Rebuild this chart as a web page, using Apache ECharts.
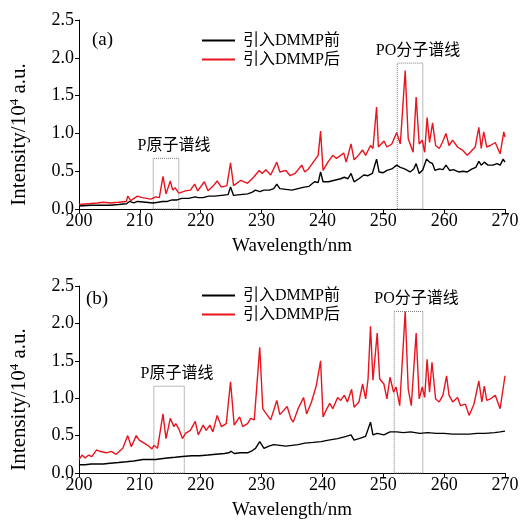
<!DOCTYPE html>
<html>
<head>
<meta charset="utf-8">
<script src="https://cdn.jsdelivr.net/npm/echarts@6/dist/echarts.min.js"></script>
<style>
html,body{margin:0;padding:0;background:#fff;}
#chart{width:523px;height:521px;}
</style>
</head>
<body>
<div id="chart"></div>
<script>
// ---------- data ----------
const xTicks = [200, 210, 220, 230, 240, 250, 260, 270];
const yTicks = [0.0, 0.5, 1.0, 1.5, 2.0, 2.5];
const seriesNames = ['引入DMMP前', '引入DMMP后'];
const panelLabels = ['(a)', '(b)'];

// Panel (a) — before DMMP (black)
const aBeforeWl = [200.0,202.0,204.0,205.1,206.5,207.8,208.3,209.0,209.6,211.0,212.1,213.0,213.7,214.5,215.3,216.1,216.9,218.0,219.1,219.6,220.4,221.3,222.3,223.4,224.5,224.9,225.4,226.5,227.7,228.4,229.0,229.7,230.4,231.3,232.0,232.5,233.0,234.0,235.0,236.0,237.0,237.8,238.7,239.3,239.7,240.1,241.0,242.0,243.0,243.6,244.2,244.7,245.2,246.0,246.8,247.5,248.2,248.9,249.3,250.0,250.6,251.4,252.2,252.8,253.5,254.4,255.0,255.4,255.9,256.5,257.1,257.6,258.1,258.5,259.2,259.8,260.3,260.9,261.5,262.4,263.1,263.8,264.6,265.2,265.7,266.1,266.6,267.2,268.0,268.7,269.2,269.7,270.0];
const aBeforeVal = [0.04,0.05,0.05,0.05,0.06,0.07,0.10,0.08,0.10,0.09,0.08,0.09,0.10,0.10,0.12,0.12,0.14,0.14,0.16,0.15,0.15,0.17,0.17,0.18,0.19,0.29,0.18,0.19,0.20,0.22,0.25,0.23,0.25,0.25,0.27,0.33,0.27,0.26,0.25,0.27,0.29,0.30,0.36,0.35,0.49,0.36,0.36,0.38,0.40,0.42,0.40,0.47,0.36,0.40,0.45,0.44,0.47,0.66,0.49,0.48,0.51,0.53,0.58,0.55,0.53,0.49,0.53,0.60,0.47,0.52,0.66,0.62,0.60,0.51,0.53,0.52,0.58,0.51,0.52,0.49,0.50,0.49,0.53,0.55,0.63,0.58,0.62,0.58,0.58,0.60,0.58,0.66,0.62];

// Panel (a) — after DMMP (red)
const aAfterWl = [200.0,201.5,203.0,204.0,205.1,206.5,207.8,208.0,208.5,209.6,210.4,211.8,212.6,213.2,213.8,214.3,215.0,215.4,215.8,216.4,217.5,218.3,219.0,219.5,220.6,221.2,222.0,222.7,223.4,224.3,224.9,225.4,226.6,227.7,228.8,229.6,230.1,230.7,231.5,232.5,233.0,234.0,234.7,235.5,236.6,237.1,237.7,238.5,239.3,239.7,240.1,240.9,241.7,242.3,243.0,243.5,243.9,244.7,245.2,245.7,246.6,247.1,247.9,248.3,248.9,249.2,250.1,250.6,251.4,252.2,252.8,253.6,254.1,254.9,255.4,255.9,256.4,256.8,257.2,257.6,258.1,258.6,259.2,259.7,260.3,260.8,261.4,262.2,263.0,263.8,264.3,265.1,265.7,266.1,266.5,267.0,267.6,268.4,269.2,269.8,270.0];
const aAfterVal = [0.06,0.07,0.08,0.09,0.08,0.09,0.10,0.17,0.11,0.17,0.15,0.13,0.16,0.15,0.43,0.20,0.37,0.25,0.28,0.21,0.24,0.25,0.33,0.24,0.36,0.24,0.30,0.37,0.29,0.31,0.61,0.31,0.38,0.34,0.43,0.51,0.47,0.52,0.45,0.62,0.49,0.51,0.44,0.47,0.58,0.49,0.53,0.62,0.71,1.03,0.51,0.62,0.71,0.67,0.71,0.74,0.62,0.86,0.65,0.69,0.78,0.71,0.84,0.80,1.35,0.82,0.90,0.82,0.86,1.01,0.86,1.83,0.93,0.75,1.48,0.86,0.91,0.75,1.21,0.88,1.14,0.84,0.80,0.88,1.00,0.84,0.91,0.82,0.78,0.71,0.75,0.82,1.08,0.80,1.02,0.82,0.84,0.88,0.73,1.02,0.95];

// Panel (b) — before DMMP (black)
const bBeforeWl = [200.0,201.0,202.0,203.0,204.0,205.1,206.5,207.8,209.0,210.5,211.5,212.6,213.5,214.5,215.8,217.0,218.5,219.8,221.2,222.5,223.9,224.6,225.0,225.5,226.5,227.7,228.5,229.0,229.7,230.4,231.2,232.0,233.0,234.0,235.0,236.0,237.1,238.5,239.8,241.0,242.5,243.9,244.7,245.2,246.0,247.1,247.9,248.3,249.0,250.1,251.1,252.2,253.3,254.5,256.0,257.3,258.7,260.0,261.4,262.7,264.1,265.4,266.7,268.3,269.2,270.0];
const bBeforeVal = [0.11,0.11,0.12,0.12,0.12,0.13,0.14,0.15,0.16,0.18,0.18,0.18,0.19,0.20,0.21,0.22,0.23,0.23,0.24,0.25,0.26,0.27,0.29,0.26,0.27,0.27,0.30,0.33,0.42,0.33,0.36,0.38,0.37,0.36,0.37,0.38,0.40,0.41,0.42,0.44,0.46,0.49,0.51,0.44,0.46,0.49,0.68,0.51,0.53,0.51,0.55,0.55,0.54,0.55,0.53,0.54,0.53,0.53,0.52,0.52,0.52,0.53,0.53,0.54,0.55,0.56];

// Panel (b) — after DMMP (red)
const bAfterWl = [200.0,200.5,201.0,201.6,202.1,202.9,203.4,204.5,205.3,206.1,207.2,208.0,208.6,209.4,209.9,210.5,211.3,212.0,212.3,212.9,213.8,214.3,215.0,215.6,215.9,216.4,217.0,217.5,218.3,219.1,219.6,220.4,220.9,221.5,222.0,222.7,223.4,224.2,224.9,225.5,226.4,226.9,227.7,228.2,228.8,229.7,230.2,230.6,231.5,232.5,233.0,234.2,234.8,235.2,236.0,236.9,237.4,238.2,239.0,239.7,240.1,240.6,241.2,241.7,242.5,243.0,243.6,244.1,244.8,245.2,246.0,246.6,247.1,247.5,247.9,248.3,249.0,249.4,250.1,250.6,251.1,251.7,252.1,252.7,253.6,254.1,254.6,255.4,255.9,256.4,256.8,257.2,257.6,258.0,258.6,259.2,259.8,260.4,260.8,261.4,262.2,262.7,263.5,264.1,264.9,265.7,266.2,266.6,267.0,267.6,268.4,269.2,270.0];
const bAfterVal = [0.18,0.24,0.20,0.24,0.22,0.31,0.29,0.27,0.29,0.25,0.33,0.50,0.35,0.50,0.44,0.41,0.37,0.32,0.37,0.33,0.79,0.46,0.73,0.62,0.66,0.59,0.46,0.53,0.57,0.69,0.51,0.64,0.57,0.64,0.55,0.77,0.62,0.66,1.22,0.64,0.75,0.62,0.66,0.73,0.71,1.68,0.86,0.81,0.71,0.97,0.78,0.89,0.73,0.68,0.86,1.01,0.79,0.95,1.17,1.50,0.75,0.84,0.93,0.86,1.01,0.97,1.04,0.95,1.12,0.88,0.95,1.19,0.99,1.26,1.96,1.24,1.87,1.26,1.19,0.99,1.28,1.08,1.15,0.90,2.16,1.12,0.90,1.87,0.99,1.15,1.01,1.52,1.08,1.48,0.99,0.95,1.04,1.30,1.04,0.95,1.01,0.90,0.92,0.77,0.92,1.23,0.95,1.16,0.97,0.99,1.04,0.86,1.30];

// Annotation boxes: [wlStart, wlEnd, top value]
const boxLabels = ['P原子谱线', 'PO分子谱线'];
const aBoxes = [[212.2, 216.4, 0.67], [252.3, 256.5, 1.93]];
const bBoxes = [[212.3, 217.3, 1.16], [251.8, 256.5, 2.16]];

// ---------- chart ----------
const F_SERIF = 'Liberation Serif, Noto Sans CJK SC, serif';
const zip = (xs, ys) => xs.map((x, i) => [x, ys[i]]);
const chart = echarts.init(document.getElementById('chart'), null, {renderer: 'canvas'});

const grids = [
  {left: 72, top: 20, width: 433, height: 189},
  {left: 72, top: 286, width: 433, height: 189}
];

function xAxisFor(i) {
  return {
    type: 'value', gridIndex: i, min: xTicks[0], max: xTicks[xTicks.length - 1], interval: 10,
    name: 'Wavelength/nm', nameLocation: 'middle', nameGap: 28,
    nameTextStyle: {fontFamily: F_SERIF, fontSize: 19, color: '#000'},
    axisLine: {show: true, onZero: false, lineStyle: {color: '#000', width: 1}},
    axisTick: {show: true, inside: false, length: 4, lineStyle: {color: '#000'}},
    axisLabel: {fontFamily: F_SERIF, fontSize: 18, color: '#000', margin: 3},
    splitLine: {show: false}
  };
}
function yAxisFor(i) {
  return {
    type: 'value', gridIndex: i, min: yTicks[0], max: yTicks[yTicks.length - 1], interval: 0.5,
    name: 'Intensity/10{s|4} a.u.', nameLocation: 'middle', nameGap: 48, nameRotate: 90,
    nameTextStyle: {fontFamily: F_SERIF, fontSize: 21, color: '#000', padding: [0, 40, 0, 0],
      rich: {s: {fontFamily: F_SERIF, fontSize: 13, color: '#000', padding: [0, 0, 10, 0]}}},
    axisLine: {show: true, onZero: false, lineStyle: {color: '#000', width: 1}},
    axisTick: {show: true, inside: false, length: 4, lineStyle: {color: '#000'}},
    axisLabel: {fontFamily: F_SERIF, fontSize: 18, color: '#000', margin: 5, formatter: v => v.toFixed(1)},
    splitLine: {show: false}
  };
}
function boxArea(boxes) {
  return {
    silent: true,
    itemStyle: {color: 'rgba(0,0,0,0)', borderColor: '#777', borderWidth: 1, borderType: 'dotted'},
    label: {show: true, position: 'top', distance: 5, offset: [8, 1], color: '#000', fontFamily: F_SERIF, fontSize: 16},
    data: boxes.map((b, k) => [{name: boxLabels[k], coord: [b[0], 0]}, {coord: [b[1], b[2]]}])
  };
}
function lineSeries(name, data, color, idx, extra) {
  return Object.assign({
    name, type: 'line', xAxisIndex: idx, yAxisIndex: idx, data,
    symbol: 'none', showSymbol: false, smooth: false,
    lineStyle: {color, width: 1.4}, itemStyle: {color},
    emphasis: {disabled: true}, animation: false
  }, extra || {});
}
function legendFor(top) {
  return {
    orient: 'vertical', left: 202, top, padding: 0, itemWidth: 33, itemHeight: 2, itemGap: 0, icon: 'rect',
    data: seriesNames,
    textStyle: {fontFamily: F_SERIF, fontSize: 16, color: '#000', lineHeight: 19, padding: [0, 0, 0, 3]},
    selectedMode: false
  };
}

const RED = '#e8141e';
chart.setOption({
  backgroundColor: '#fff',
  animation: false,
  title: [
    {text: panelLabels[0], left: 92, top: 31, padding: 0, textStyle: {fontFamily: F_SERIF, fontSize: 19, fontWeight: 'normal', color: '#000'}},
    {text: panelLabels[1], left: 86, top: 290, padding: 0, textStyle: {fontFamily: F_SERIF, fontSize: 19, fontWeight: 'normal', color: '#000'}}
  ],
  legend: [legendFor(31), legendFor(286)],
  grid: grids,
  xAxis: [xAxisFor(0), xAxisFor(1)],
  yAxis: [yAxisFor(0), yAxisFor(1)],
  series: [
    lineSeries(seriesNames[1], zip(aAfterWl, aAfterVal), RED, 0, {markArea: boxArea(aBoxes)}),
    lineSeries(seriesNames[0], zip(aBeforeWl, aBeforeVal), '#000', 0),
    lineSeries(seriesNames[1], zip(bAfterWl, bAfterVal), RED, 1, {markArea: boxArea(bBoxes)}),
    lineSeries(seriesNames[0], zip(bBeforeWl, bBeforeVal), '#000', 1)
  ]
});
</script>
</body>
</html>
